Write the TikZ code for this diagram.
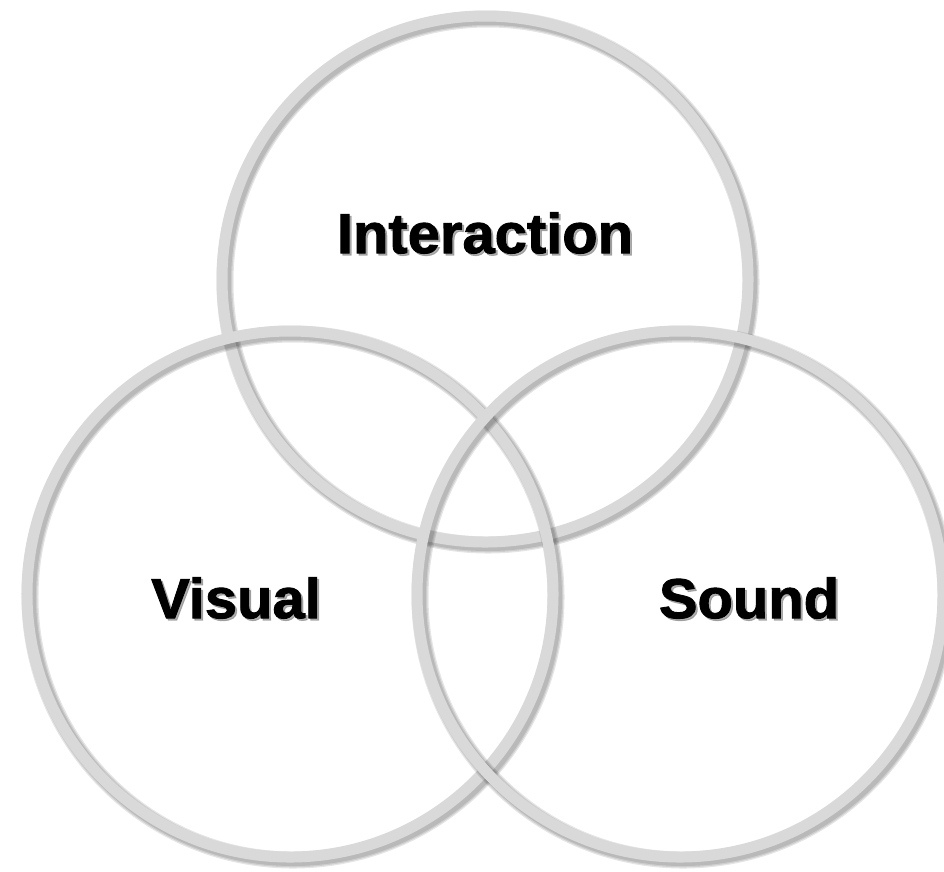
\documentclass[tikz,border=0pt]{standalone}
\usepackage{fontspec}
\setmainfont{Liberation Sans}
\newfontfamily\lblfont[FakeBold=1.6,FakeStretch=1.03]{Liberation Sans Bold}

\definecolor{ringgray}{HTML}{D9D9D9}

\tikzset{
  ring/.style={draw=ringgray, line width=2.2mm},
  ringshade/.style={draw=black, opacity=0.1, line width=#1},
  lbl/.style={font=\lblfont\fontsize{32}{38}\selectfont},
  lblshade/.style={lbl, text=black!45, opacity=0.7},
}

\begin{document}
\begin{tikzpicture}[x=0.2mm,y=-0.2mm]
\useasboundingbox (0,0) rectangle (944,871);

% centres of the three rings
\coordinate (interactionc) at (485,279);
\coordinate (visualc) at (290,594);
\coordinate (soundc) at (680,594);

% rings, each with a soft shadow
\foreach \c in {interactionc,visualc,soundc}{
  \foreach \w in {3.4mm,2.9mm,2.4mm}
    \draw[ringshade=\w] ([shift={(3,3)}]\c) circle[radius=52.6mm];
  \draw[ring] (\c) circle[radius=52.6mm];
}

% labels
\node[lblshade] (interactionsh) at (487,235) {Interaction};
\node[lbl] (interaction) at (485,233) {Interaction};
\node[lblshade] (visualsh) at (238,600) {Visual};
\node[lbl] (visual) at (236,598) {Visual};
\node[lblshade] (soundsh) at (751,600) {Sound};
\node[lbl] (sound) at (749,598) {Sound};
\end{tikzpicture}
\end{document}
